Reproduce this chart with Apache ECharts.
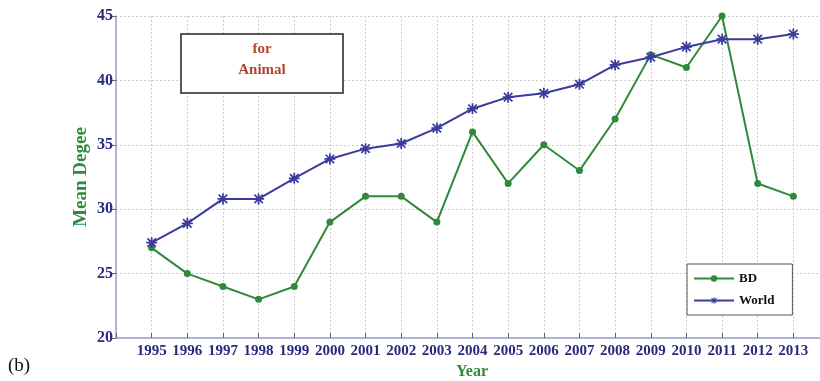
<!DOCTYPE html>
<html>
<head>
<meta charset="utf-8">
<script src="https://cdn.jsdelivr.net/npm/echarts@6/dist/echarts.min.js"></script>
<style>
  html, body { margin: 0; padding: 0; background: #fff; }
  #chart { width: 820px; height: 381px; }
</style>
</head>
<body>
<div id="chart"></div>
<script>
// Years on the horizontal axis
const years = [1995, 1996, 1997, 1998, 1999, 2000, 2001, 2002, 2003, 2004,
               2005, 2006, 2007, 2008, 2009, 2010, 2011, 2012, 2013];
// Mean degree of the animal trade network
const bdValues = [27, 25, 24, 23, 24, 29, 31, 31, 29, 36,
                  32, 35, 33, 37, 42, 41, 45, 32, 31];
const worldValues = [27.4, 28.9, 30.8, 30.8, 32.4, 33.9, 34.7, 35.1, 36.3, 37.8,
                     38.7, 39.0, 39.7, 41.2, 41.8, 42.6, 43.2, 43.2, 43.6];
const yTicks = [20, 25, 30, 35, 40, 45];

const serif = '"Liberation Serif", "DejaVu Serif", serif';
const navy = '#282a7e';
const green = '#2f8a3a';
const blue = '#3b3b9e';
const axisColor = '#9c9ccc';

// asterisk marker used for the World series
const asterisk = 'path://M4.2,0h1.6v10h-1.6z M0,4.2h10v1.6h-10z M0.6,1.7L1.7,0.6L9.4,8.3L8.3,9.4z M8.3,0.6L9.4,1.7L1.7,9.4L0.6,8.3z';

const pair = (xs, ys) => xs.map((x, i) => [x, ys[i]]);

const chart = echarts.init(document.getElementById('chart'), null, { renderer: 'canvas' });
chart.setOption({
  animation: false,
  backgroundColor: '#fff',
  grid: { left: 116, top: 16, width: 713, height: 322, containLabel: false, outerBoundsMode: 'none' },
  xAxis: {
    type: 'value', min: 1994, max: 2014, interval: 1,
    axisLine: { show: true, lineStyle: { color: axisColor, width: 1.5 } },
    axisTick: { show: true, inside: true, length: 5, lineStyle: { color: '#666' } },
    axisLabel: {
      color: navy, fontFamily: serif, fontWeight: 'bold', fontSize: 15, margin: 6,
      formatter: v => (years.indexOf(v) >= 0 ? String(v) : '')
    },
    splitLine: { show: true, lineStyle: { color: '#cfcfcf', type: [2, 2], width: 1 } }
  },
  yAxis: {
    type: 'value', min: yTicks[0], max: yTicks[yTicks.length - 1], interval: 5,
    axisLine: { show: true, onZero: false, lineStyle: { color: axisColor, width: 1.5 } },
    axisTick: { show: true, inside: false, length: 4, lineStyle: { color: '#666' } },
    axisLabel: { color: navy, fontFamily: serif, fontWeight: 'bold', fontSize: 16, margin: 3 },
    splitLine: { show: true, lineStyle: { color: '#cfcfcf', type: [2, 2], width: 1 } }
  },
  legend: {
    orient: 'vertical', left: 687, top: 264,
    padding: [8, 18, 8, 6],
    itemGap: 9,
    itemWidth: 40, itemHeight: 8,
    backgroundColor: '#fff',
    borderColor: '#555', borderWidth: 1,
    textStyle: { color: '#111', fontFamily: serif, fontWeight: 'bold', fontSize: 13 },
    data: ['BD', 'World']
  },
  series: [
    {
      name: 'BD', type: 'line', data: pair(years, bdValues),
      symbol: 'circle', symbolSize: 7,
      lineStyle: { color: green, width: 2 },
      itemStyle: { color: green },
      z: 3
    },
    {
      name: 'World', type: 'line', data: pair(years, worldValues),
      symbol: asterisk, symbolSize: 11,
      lineStyle: { color: blue, width: 2 },
      itemStyle: { color: blue },
      z: 4
    }
  ],
  graphic: [
    {
      type: 'rect', z: 10,
      shape: { x: 181, y: 34, width: 162, height: 59 },
      style: { fill: '#fff', stroke: '#222', lineWidth: 1.5 }
    },
    {
      type: 'text', z: 11,
      position: [262, 60],
      style: {
        text: 'for\nAnimal', align: 'center', verticalAlign: 'middle',
        fill: '#b0442c', font: 'bold 15px ' + serif, lineHeight: 21
      }
    },
    {
      type: 'text', z: 11, rotation: Math.PI / 2,
      position: [81, 177],
      style: {
        text: 'Mean Degee', align: 'center', verticalAlign: 'middle',
        fill: green, font: 'bold 19px ' + serif
      }
    },
    {
      type: 'text', z: 11,
      position: [472, 372],
      style: {
        text: 'Year', align: 'center', verticalAlign: 'middle',
        fill: green, font: 'bold 16px ' + serif
      }
    },
    {
      type: 'text', z: 11,
      position: [8, 366],
      style: {
        text: '(b)', align: 'left', verticalAlign: 'middle',
        fill: '#111', font: '19px ' + serif
      }
    }
  ]
});
</script>
</body>
</html>
